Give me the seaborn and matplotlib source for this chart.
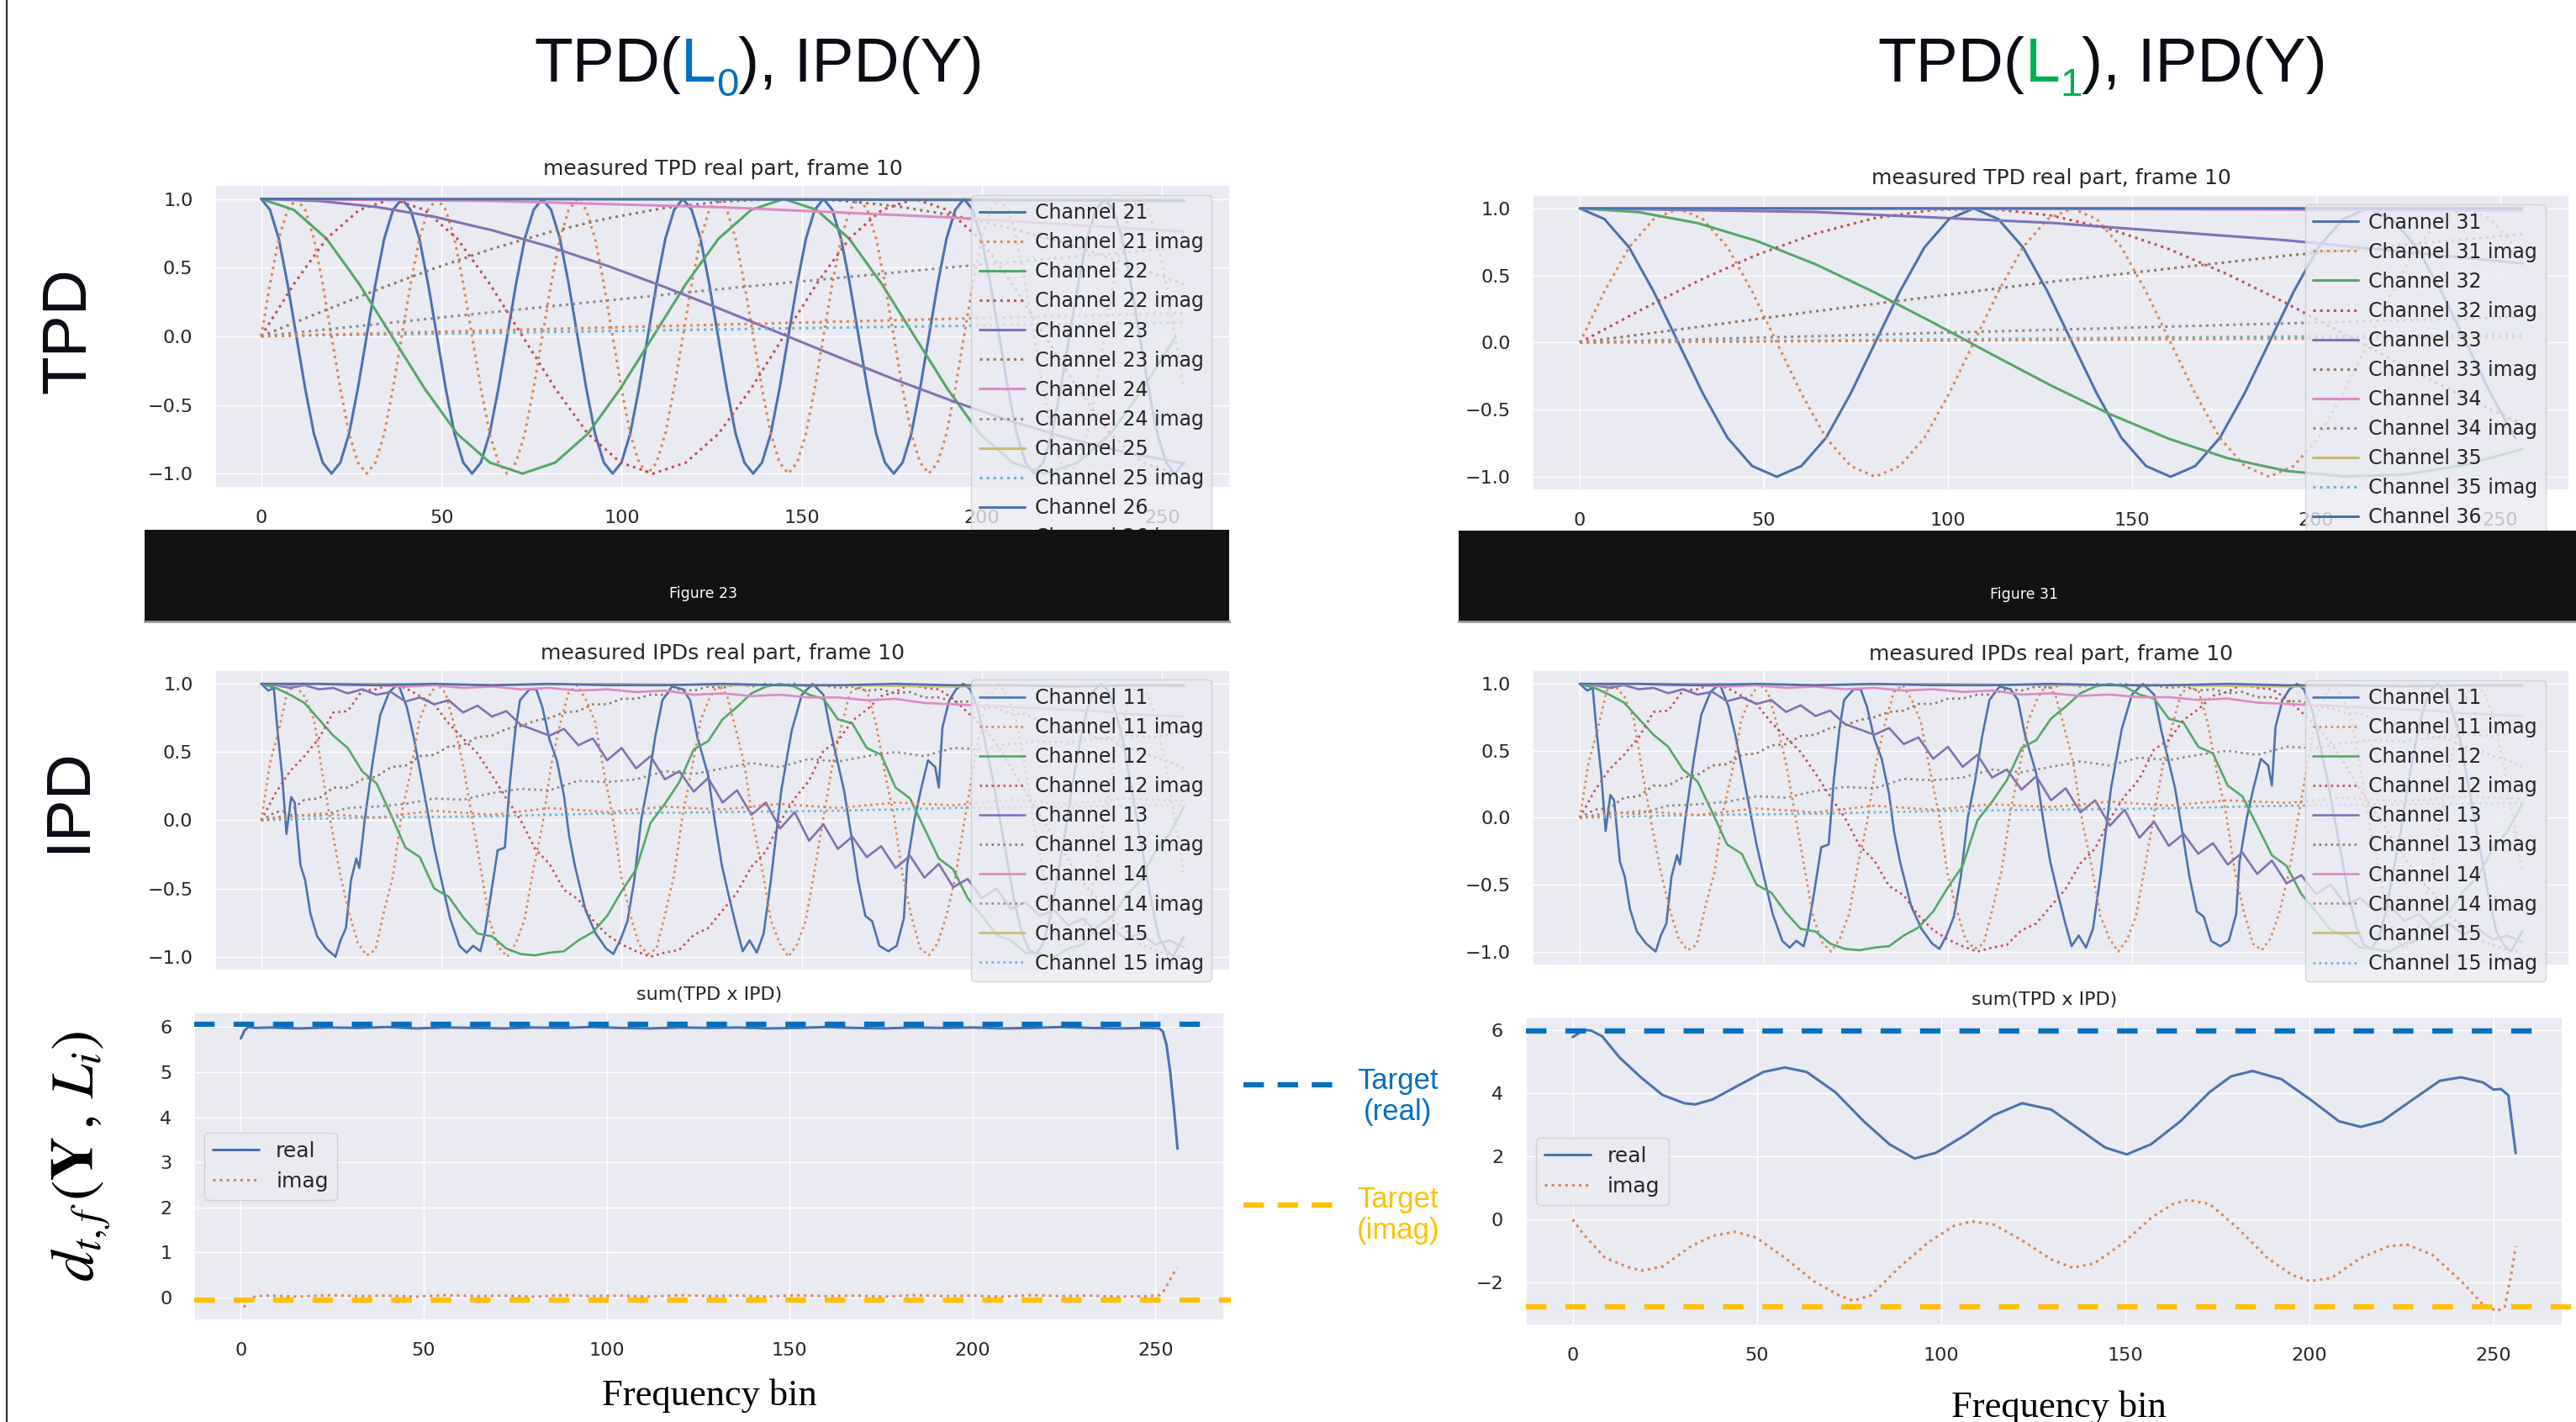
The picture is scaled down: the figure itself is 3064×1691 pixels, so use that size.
import matplotlib
matplotlib.use("Agg")
import numpy as np
import seaborn as sns
import matplotlib.pyplot as plt
from matplotlib.lines import Line2D

# ---------------------------------------------------------------- data
# TPD(L0): channels 21..26 (real, imag) per frequency bin
tpd_l0_ch21_step = 2.4375
tpd_l0_ch21_real = [
    1.0, 0.92, 0.71, 0.38, 0.0, -0.38, -0.71, -0.92, -1.0, -0.92, -0.71, -0.38, 0.0, 0.38, 0.71, 0.92,
    1.0, 0.92, 0.71, 0.38, 0.0, -0.38, -0.71, -0.92, -1.0, -0.92, -0.71, -0.38, 0.0, 0.38, 0.71, 0.92,
    1.0, 0.92, 0.71, 0.38, 0.0, -0.38, -0.71, -0.92, -1.0, -0.92, -0.71, -0.38, 0.0, 0.38, 0.71, 0.92,
    1.0, 0.92, 0.71, 0.38, 0.0, -0.38, -0.71, -0.92, -1.0, -0.92, -0.71, -0.38, 0.0, 0.38, 0.71, 0.92,
    1.0, 0.92, 0.71, 0.38, 0.0, -0.38, -0.71, -0.92, -1.0, -0.92, -0.71, -0.38, 0.0, 0.38, 0.71, 0.92,
    1.0, 0.92, 0.71, 0.38, 0.0, -0.38, -0.71, -0.92, -1.0, -0.92, -0.71, -0.38, 0.0, 0.38, 0.71, 0.92,
    1.0, 0.92, 0.71, 0.38, 0.0, -0.38, -0.71, -0.92, -1.0, -0.92,
]
tpd_l0_ch21_imag = [
    0.0, 0.38, 0.71, 0.92, 1.0, 0.92, 0.71, 0.38, 0.0, -0.38, -0.71, -0.92, -1.0, -0.92, -0.71, -0.38,
    0.0, 0.38, 0.71, 0.92, 1.0, 0.92, 0.71, 0.38, 0.0, -0.38, -0.71, -0.92, -1.0, -0.92, -0.71, -0.38,
    0.0, 0.38, 0.71, 0.92, 1.0, 0.92, 0.71, 0.38, 0.0, -0.38, -0.71, -0.92, -1.0, -0.92, -0.71, -0.38,
    0.0, 0.38, 0.71, 0.92, 1.0, 0.92, 0.71, 0.38, 0.0, -0.38, -0.71, -0.92, -1.0, -0.92, -0.71, -0.38,
    0.0, 0.38, 0.71, 0.92, 1.0, 0.92, 0.71, 0.38, 0.0, -0.38, -0.71, -0.92, -1.0, -0.92, -0.71, -0.38,
    0.0, 0.38, 0.71, 0.92, 1.0, 0.92, 0.71, 0.38, 0.0, -0.38, -0.71, -0.92, -1.0, -0.92, -0.71, -0.38,
    0.0, 0.38, 0.71, 0.92, 1.0, 0.92, 0.71, 0.38, 0.0, -0.38,
]
tpd_l0_ch22_step = 9.0625
tpd_l0_ch22_real = [
    1.0, 0.92, 0.71, 0.38, 0.0, -0.38, -0.71, -0.92, -1.0, -0.92, -0.71, -0.38, 0.0, 0.38, 0.71, 0.92,
    1.0, 0.92, 0.71, 0.38, 0.0, -0.38, -0.71, -0.92, -1.0, -0.92, -0.71, -0.38, 0.0,
]
tpd_l0_ch22_imag = [
    0.0, 0.38, 0.71, 0.92, 1.0, 0.92, 0.71, 0.38, 0.0, -0.38, -0.71, -0.92, -1.0, -0.92, -0.71, -0.38,
    0.0, 0.38, 0.71, 0.92, 1.0, 0.92, 0.71, 0.38, 0.0, -0.38, -0.71, -0.92, -1.0,
]
tpd_l0_ch23_step = 16
tpd_l0_ch23_real = [1.0, 0.985, 0.941, 0.87, 0.772, 0.652, 0.513, 0.358, 0.192, 0.021,
                    -0.15, -0.317, -0.474, -0.618, -0.744, -0.848, -0.926]
tpd_l0_ch23_imag = [0.0, 0.171, 0.337, 0.494, 0.636, 0.758, 0.858, 0.934, 0.981, 1.0,
                    0.989, 0.948, 0.88, 0.786, 0.668, 0.53, 0.377]
tpd_slow_step = 64
tpd_l0_ch24_real = [1.0, 0.985, 0.939, 0.864, 0.762]
tpd_l0_ch24_imag = [0.0, 0.175, 0.345, 0.504, 0.647]
tpd_l0_ch25_real = [1.0, 1.0, 0.999, 0.997, 0.995]
tpd_l0_ch25_imag = [0.0, 0.025, 0.05, 0.075, 0.1]
tpd_l0_ch26_real = [1.0, 0.998, 0.996, 0.992, 0.986]
tpd_l0_ch26_imag = [0.0, 0.042, 0.085, 0.127, 0.169]

# TPD(L1): channels 31..36
tpd_l1_ch31_step = 6.6875
tpd_l1_ch31_real = [
    1.0, 0.92, 0.71, 0.38, 0.0, -0.38, -0.71, -0.92, -1.0, -0.92, -0.71, -0.38, 0.0, 0.38, 0.71, 0.92,
    1.0, 0.92, 0.71, 0.38, 0.0, -0.38, -0.71, -0.92, -1.0, -0.92, -0.71, -0.38, 0.0, 0.38, 0.71, 0.92,
    1.0, 0.92, 0.71, 0.38, 0.0, -0.38, -0.71,
]
tpd_l1_ch31_imag = [
    0.0, 0.38, 0.71, 0.92, 1.0, 0.92, 0.71, 0.38, 0.0, -0.38, -0.71, -0.92, -1.0, -0.92, -0.71, -0.38,
    0.0, 0.38, 0.71, 0.92, 1.0, 0.92, 0.71, 0.38, 0.0, -0.38, -0.71, -0.92, -1.0, -0.92, -0.71, -0.38,
    0.0, 0.38, 0.71, 0.92, 1.0, 0.92, 0.71,
]
tpd_l1_ch32_step = 16
tpd_l1_ch32_real = [1.0, 0.972, 0.89, 0.758, 0.584, 0.375, 0.148, -0.089, -0.32, -0.533,
                    -0.717, -0.862, -0.957, -0.998, -0.984, -0.914, -0.795]
tpd_l1_ch32_imag = [0.0, 0.235, 0.457, 0.653, 0.812, 0.927, 0.989, 0.996, 0.947, 0.846,
                    0.697, 0.508, 0.292, 0.059, -0.177, -0.402, -0.607]
tpd_l1_ch33_real = [1.0, 0.973, 0.892, 0.762, 0.59]
tpd_l1_ch33_imag = [0.0, 0.233, 0.453, 0.648, 0.808]
tpd_l1_ch34_real = [1.0, 0.999, 0.996, 0.99, 0.982]
tpd_l1_ch34_imag = [0.0, 0.048, 0.095, 0.143, 0.19]
tpd_l1_ch35_real = [1.0, 1.0, 0.999, 0.999, 0.998]
tpd_l1_ch35_imag = [0.0, 0.015, 0.03, 0.045, 0.06]
tpd_l1_ch36_real = [1.0, 1.0, 1.0, 1.0, 0.999]
tpd_l1_ch36_imag = [0.0, 0.01, 0.02, 0.03, 0.04]

# IPD(Y): measured channels 11..16 (same frame in both columns)
ipd_ch11_bins = [0, 2, 3.5, 4.5, 5.8, 7, 8.3, 9.3, 10.9, 12.2,
                 13.6, 15.5, 18, 20.6, 22, 23.5, 24.9, 26.4, 27.2, 28.7,
                 31, 33, 35.5, 38, 40.4, 42.3, 44.3, 46.6, 48, 50,
                 52.4, 55, 57, 58.8, 60.8, 62, 63.7, 65.6, 67.6, 69,
                 70.5, 71.8, 74.4, 76.3, 78, 80, 82, 84, 85.4, 87,
                 90, 92.8, 95.7, 97.7, 99.6, 101.6, 103.5, 105.4, 107.4, 109.3,
                 111.3, 114, 117, 119, 121, 124, 125.8, 127.8, 129.7, 131.7,
                 133.6, 135.5, 137.5, 139.4, 141.4, 144.3, 147.2, 150, 153, 156,
                 157.9, 159.8, 161.7, 163.7, 165.6, 167.6, 169.5, 171.5, 174, 176.3,
                 178.3, 179.2, 181.2, 183, 185, 187, 188, 189, 190.9, 192.8,
                 194.8, 196.7, 199, 201, 203, 205, 207, 209, 211, 213,
                 215, 217, 219, 221, 223, 225, 227, 229, 231, 233,
                 235, 237, 239, 241, 243, 245, 247, 249, 251, 253,
                 255, 256]
ipd_ch11_real = [1.0, 0.95, 0.97, 0.66, 0.33, -0.1, 0.17, 0.13, -0.33, -0.44,
                 -0.68, -0.85, -0.94, -1.0, -0.88, -0.79, -0.44, -0.28, -0.35, 0.0,
                 0.44, 0.77, 0.94, 1.0, 0.83, 0.61, 0.33, 0.0, -0.2, -0.44,
                 -0.72, -0.92, -0.97, -0.92, -0.96, -0.83, -0.55, -0.22, -0.2, 0.28,
                 0.66, 0.88, 0.96, 0.96, 0.83, 0.59, 0.44, 0.18, -0.11, -0.33,
                 -0.66, -0.83, -0.94, -0.98, -0.88, -0.74, -0.44, 0.0, 0.28, 0.61,
                 0.88, 0.98, 0.96, 0.88, 0.61, 0.33, 0.0, -0.33, -0.55, -0.77,
                 -0.96, -0.88, -0.97, -0.83, -0.44, 0.22, 0.66, 0.92, 1.0, 0.92,
                 0.66, 0.44, 0.22, -0.11, -0.44, -0.7, -0.74, -0.92, -0.96, -0.92,
                 -0.72, -0.33, 0.0, 0.22, 0.44, 0.39, 0.24, 0.68, 0.88, 0.96,
                 1.0, 0.96, 0.8, 0.55, 0.3, 0.0, -0.3, -0.6, -0.82, -0.95,
                 -0.98, -0.9, -0.7, -0.4, -0.1, 0.25, 0.55, 0.8, 0.95, 1.0,
                 0.95, 0.8, 0.6, 0.3, 0.0, -0.3, -0.6, -0.85, -0.95, -1.0,
                 -0.9, -0.85]
ipd_ch11_imag_step = 2.4375
ipd_ch11_imag = [
    0.0, 0.42, 0.66, 0.95, 0.98, 0.9, 0.74, 0.33, -0.05, -0.4, -0.68, -0.9, -0.99, -0.95, -0.66, -0.41,
    0.06, 0.35, 0.73, 0.9, 1.0, 0.93, 0.69, 0.4, 0.02, -0.36, -0.74, -0.93, -1.0, -0.9, -0.72, -0.35,
    -0.04, 0.4, 0.7, 0.94, 0.99, 0.88, 0.72, 0.36, 0.03, -0.42, -0.69, -0.91, -0.98, -0.94, -0.68, -0.4,
    0.05, 0.37, 0.73, 0.89, 1.0, 0.92, 0.67, 0.41, -0.03, -0.35, -0.73, -0.9, -1.0, -0.91, -0.73, -0.36,
    0.02, 0.4, 0.68, 0.93, 0.98, 0.94, 0.7, 0.34, 0.04, -0.4, -0.7, -0.94, -0.99, -0.9, -0.7, -0.42,
    -0.02, 0.36, 0.74, 0.91, 1.0, 0.9, 0.73, 0.37, -0.04, -0.38, -0.72, -0.92, -0.98, -0.93, -0.69, -0.37,
    0.03, 0.4, 0.7, 0.93, 0.99, 0.91, 0.71, 0.38, 0.0, -0.39,
]
ipd_mid_step = 4
ipd_ch12_real = [1.0, 0.97, 0.92, 0.86, 0.74, 0.62, 0.53, 0.36, 0.27, 0.04,
                 -0.2, -0.27, -0.5, -0.56, -0.71, -0.83, -0.85, -0.94, -0.98, -0.99,
                 -0.97, -0.96, -0.88, -0.82, -0.7, -0.52, -0.36, -0.02, 0.12, 0.28,
                 0.52, 0.58, 0.74, 0.83, 0.93, 0.98, 1.0, 0.98, 0.92, 0.89,
                 0.74, 0.71, 0.53, 0.48, 0.24, 0.16, -0.06, -0.28, -0.36, -0.57,
                 -0.7, -0.84, -0.88, -0.97, -0.98, -1.0, -0.94, -0.91, -0.78, -0.71,
                 -0.55, -0.44, -0.23, -0.1, 0.1]
ipd_ch12_imag = [0.0, 0.2, 0.36, 0.47, 0.6, 0.79, 0.8, 0.95, 0.96, 1.0,
                 0.97, 0.91, 0.85, 0.71, 0.6, 0.49, 0.33, 0.16, 0.0, -0.21,
                 -0.32, -0.51, -0.58, -0.73, -0.84, -0.91, -0.96, -1.0, -0.97, -0.95,
                 -0.84, -0.79, -0.66, -0.53, -0.34, -0.23, -0.01, 0.16, 0.29, 0.51,
                 0.58, 0.73, 0.81, 0.91, 0.94, 1.0, 0.97, 0.96, 0.89, 0.79,
                 0.69, 0.56, 0.39, 0.21, 0.04, -0.13, -0.29, -0.46, -0.57, -0.73,
                 -0.81, -0.91, -0.95, -0.99, -1.0]
ipd_ch13_real = [1.0, 0.99, 0.97, 0.99, 0.96, 0.97, 0.93, 0.96, 0.92, 0.94,
                 0.87, 0.9, 0.85, 0.88, 0.79, 0.84, 0.76, 0.8, 0.7, 0.66,
                 0.62, 0.67, 0.55, 0.6, 0.44, 0.53, 0.38, 0.47, 0.3, 0.36,
                 0.21, 0.31, 0.13, 0.22, 0.04, 0.13, -0.06, 0.06, -0.15, -0.03,
                 -0.21, -0.12, -0.27, -0.19, -0.35, -0.26, -0.42, -0.32, -0.49, -0.43,
                 -0.57, -0.5, -0.65, -0.6, -0.7, -0.66, -0.77, -0.72, -0.83, -0.79,
                 -0.87, -0.83, -0.91, -0.88, -0.93]
ipd_ch13_imag = [0.0, 0.06, 0.07, 0.15, 0.16, 0.24, 0.24, 0.3, 0.32, 0.39,
                 0.4, 0.47, 0.48, 0.54, 0.55, 0.61, 0.62, 0.67, 0.69, 0.73,
                 0.75, 0.79, 0.8, 0.85, 0.85, 0.89, 0.89, 0.92, 0.92, 0.96,
                 0.95, 0.98, 0.97, 1.0, 0.98, 1.0, 0.99, 1.0, 0.98, 0.99,
                 0.97, 0.98, 0.95, 0.96, 0.93, 0.94, 0.9, 0.9, 0.87, 0.87,
                 0.83, 0.82, 0.78, 0.78, 0.73, 0.72, 0.66, 0.66, 0.6, 0.59,
                 0.53, 0.51, 0.46, 0.43, 0.38]
ipd_fine_step = 8
ipd_ch14_real = [1.0, 0.99, 1.0, 0.99, 0.99, 0.98, 0.99, 0.97, 0.98, 0.96,
                 0.97, 0.95, 0.96, 0.94, 0.95, 0.92, 0.93, 0.91, 0.92, 0.9,
                 0.9, 0.88, 0.89, 0.86, 0.85, 0.84, 0.83, 0.82, 0.81, 0.8,
                 0.78, 0.77, 0.76]
ipd_ch14_imag = [0.0, 0.04, 0.03, 0.09, 0.1, 0.12, 0.16, 0.15, 0.2, 0.23,
                 0.22, 0.29, 0.28, 0.3, 0.36, 0.34, 0.38, 0.42, 0.39, 0.45,
                 0.43, 0.47, 0.5, 0.47, 0.53, 0.52, 0.56, 0.58, 0.57, 0.6,
                 0.62, 0.61, 0.65]
ipd_flat_step = 32
ipd_ch15_real = [1.0, 1.0, 0.99, 1.0, 0.99, 0.99, 0.98, 0.99, 0.98]
ipd_ch15_imag = [0.0, 0.02, 0.03, 0.05, 0.06, 0.07, 0.09, 0.1, 0.11]
ipd_ch16_step = 16
ipd_ch16_real = [1.0, 1.0, 0.99, 1.0, 0.99, 1.0, 0.99, 0.99, 1.0, 0.99, 0.99, 1.0, 0.99, 0.99, 0.98, 0.99, 0.99]
ipd_ch16_imag = [0.0, 0.05, 0.02, 0.07, 0.04, 0.09, 0.06, 0.1, 0.08, 0.12, 0.09, 0.13, 0.11, 0.15, 0.12, 0.16, 0.14]

# sum(TPD x IPD) for L0
sum_l0_bins = [0, 1, 2, 4, 8, 16, 24, 32, 40, 48, 56, 64, 72, 80, 88, 96, 104, 112, 120, 128,
               136, 144, 152, 160, 168, 176, 184, 192, 200, 208, 216, 224, 232, 240, 248,
               251, 252, 253, 254, 255, 256]
sum_l0_real = [5.75, 5.92, 6.0, 5.98, 5.99, 5.97, 5.99, 5.98, 6.0, 5.97, 5.99, 5.98, 5.97, 5.99,
               5.98, 6.0, 5.98, 5.97, 5.99, 5.98, 5.99, 5.97, 5.98, 6.0, 5.98, 5.97, 5.99, 5.98,
               5.99, 5.97, 5.98, 6.0, 5.98, 5.97, 5.98, 5.97, 5.9, 5.6, 5.0, 4.2, 3.3]
sum_l0_imag = [-0.05, -0.2, -0.08, 0.03, 0.04, 0.02, 0.05, 0.03, 0.04, 0.02, 0.05, 0.03, 0.04,
               0.02, 0.05, 0.03, 0.04, 0.02, 0.05, 0.03, 0.04, 0.02, 0.05, 0.03, 0.04, 0.02,
               0.05, 0.03, 0.04, 0.02, 0.05, 0.03, 0.04, 0.02, 0.03, 0.05, 0.12, 0.25, 0.4, 0.55, 0.65]
# sum(TPD x IPD) for L1
sum_l1_real_bins = [0, 3, 5, 8, 12.7, 18.6, 24.4, 30.3, 33.2, 38, 45.9, 51.8, 57.6, 63.5, 71.3, 79,
                    86, 92.8, 98.6, 106.4, 114.3, 122, 129.9, 137.7, 144.5, 150.4, 157, 165,
                    172.9, 178.7, 184.6, 192.4, 200.2, 208, 213.9, 219.7, 227.5, 235.4, 241.2,
                    247.1, 250, 252, 254, 256]
sum_l1_real = [5.77, 6.0, 5.98, 5.8, 5.13, 4.49, 3.94, 3.68, 3.64, 3.8, 4.3, 4.67, 4.81, 4.67,
               4.03, 3.11, 2.38, 1.93, 2.11, 2.66, 3.3, 3.68, 3.48, 2.84, 2.28, 2.06, 2.38, 3.11,
               4.03, 4.53, 4.7, 4.44, 3.8, 3.11, 2.93, 3.11, 3.75, 4.39, 4.5, 4.34, 4.11, 4.13,
               3.93, 2.1]
sum_l1_imag_bins = [0, 3, 8.8, 14.6, 18.6, 24.4, 32.2, 38, 44, 49.8, 57.6, 65.4, 72.3, 76.2, 81,
                    88.9, 96.7, 103.5, 108.4, 114.3, 122, 129.9, 135.7, 141.6, 149.4, 157.2, 163,
                    167, 172.9, 180.7, 188.5, 195.3, 200.2, 206, 214, 221.7, 226.6, 233.4, 241.2,
                    247, 250.9, 253, 254.9, 256]
sum_l1_imag = [0.0, -0.48, -1.21, -1.49, -1.62, -1.49, -0.84, -0.52, -0.39, -0.57, -1.21, -1.95,
               -2.4, -2.57, -2.4, -1.49, -0.71, -0.2, -0.06, -0.16, -0.66, -1.26, -1.53, -1.39,
               -0.75, 0.07, 0.49, 0.62, 0.49, -0.29, -1.21, -1.76, -1.95, -1.85, -1.21, -0.84,
               -0.8, -1.12, -1.95, -2.68, -2.9, -2.77, -1.67, -0.85]

# target levels drawn on the slide
target_l0_real, target_l0_imag = 6.06, -0.05
target_l1_real, target_l1_imag = 5.97, -2.77

# ---------------------------------------------------------------- style
sns.set_theme(style="darkgrid")
plt.rcParams["mathtext.fontset"] = "stix"
pal = sns.color_palette("deep")
BLUE_T, YELLOW_T, GREEN_T = "#0070C0", "#FFC000", "#00B050"
INK = "#0c0c14"

fig = plt.figure(figsize=(30.64, 16.91), dpi=100)


def grid(step, vals):
    return np.arange(len(vals)) * step


def curve(ax, x, y, color, label, dotted=False, lw=2.2):
    sns.lineplot(x=x, y=y, ax=ax, color=color, linewidth=lw,
                 linestyle=":" if dotted else "-", label=label,
                 errorbar=None, sort=False, legend=False)


def style_axes(ax, title, xlabels=True):
    ax.set_xlim(-12.8, 268.8)
    ax.set_xticks([0, 50, 100, 150, 200, 250])
    if not xlabels:
        ax.set_xticklabels([])
    ax.tick_params(labelsize=16, pad=13)
    ax.set_title(title, fontsize=18, pad=9, color="0.15")


def channel_legend(ax, n):
    h, lab = ax.get_legend_handles_labels()
    ax.legend(h[:n], lab[:n], loc="upper left", bbox_to_anchor=(0.745, 0.968),
              borderaxespad=0, fontsize=17, labelspacing=0.47, handlelength=2.3,
              handletextpad=0.5)


def tpd_panel(rect, chans, first):
    ax = fig.add_axes(rect)
    for i, (x, re, im) in enumerate(chans):
        curve(ax, x, re, pal[(2 * i) % 10], f"Channel {first + i}")
        curve(ax, x, im, pal[(2 * i + 1) % 10], f"Channel {first + i} imag", dotted=True)
    ax.set_ylim(-1.1, 1.1)
    style_axes(ax, "measured TPD real part, frame 10")
    channel_legend(ax, 2 * len(chans))
    return ax


def band(rect, text, tx):
    b = fig.add_axes(rect)
    b.set_facecolor("#121212")
    b.set_xticks([])
    b.set_yticks([])
    b.grid(False)
    for s in b.spines.values():
        s.set_visible(False)
    b.spines["bottom"].set_visible(True)
    b.spines["bottom"].set_color("#9a9a9a")
    b.spines["bottom"].set_linewidth(2)
    b.text(tx, 0.3, text, transform=b.transAxes, color="white", ha="center",
           va="center", fontsize=12.5)


def ipd_panel(rect):
    ax = fig.add_axes(rect)
    chans = [
        (ipd_ch11_bins, ipd_ch11_real, grid(ipd_ch11_imag_step, ipd_ch11_imag), ipd_ch11_imag),
        (grid(ipd_mid_step, ipd_ch12_real), ipd_ch12_real, grid(ipd_mid_step, ipd_ch12_imag), ipd_ch12_imag),
        (grid(ipd_mid_step, ipd_ch13_real), ipd_ch13_real, grid(ipd_mid_step, ipd_ch13_imag), ipd_ch13_imag),
        (grid(ipd_fine_step, ipd_ch14_real), ipd_ch14_real, grid(ipd_fine_step, ipd_ch14_imag), ipd_ch14_imag),
        (grid(ipd_flat_step, ipd_ch15_real), ipd_ch15_real, grid(ipd_flat_step, ipd_ch15_imag), ipd_ch15_imag),
        (grid(ipd_ch16_step, ipd_ch16_real), ipd_ch16_real, grid(ipd_ch16_step, ipd_ch16_imag), ipd_ch16_imag),
    ]
    for i, (xr, re, xi, im) in enumerate(chans):
        curve(ax, xr, re, pal[(2 * i) % 10], f"Channel {11 + i}", lw=1.9)
        curve(ax, xi, im, pal[(2 * i + 1) % 10], f"Channel {11 + i} imag", dotted=True, lw=1.9)
    ax.set_ylim(-1.1, 1.1)
    style_axes(ax, "measured IPDs real part, frame 10", xlabels=False)
    channel_legend(ax, 10)
    return ax


def sum_panel(rect, xr, re, xi, im, ylim, yticks, t_real, t_imag, blue_end, yellow_end):
    ax = fig.add_axes(rect)
    curve(ax, xr, re, pal[0], "real")
    curve(ax, xi, im, pal[1], "imag", dotted=True)
    ax.set_ylim(*ylim)
    ax.set_yticks(yticks)
    style_axes(ax, "sum(TPD x IPD)")
    ax.set_title("sum(TPD x IPD)", fontsize=16, pad=11, color="0.15")
    ax.legend(loc="center left", fontsize=18, handlelength=2.2)
    tr = ax.get_yaxis_transform()
    ax.plot([0, blue_end], [t_real, t_real], transform=tr, color=BLUE_T, lw=4.5,
            dashes=(3.9, 3.6), clip_on=False, zorder=5)
    ax.plot([0, yellow_end], [t_imag, t_imag], transform=tr, color=YELLOW_T, lw=4.5,
            dashes=(3.9, 3.6), clip_on=False, zorder=5)
    return ax


# ---------------------------------------------------------------- panels
tpd_panel([0.0835, 0.6573, 0.394, 0.2125], [
    (grid(tpd_l0_ch21_step, tpd_l0_ch21_real), tpd_l0_ch21_real, tpd_l0_ch21_imag),
    (grid(tpd_l0_ch22_step, tpd_l0_ch22_real), tpd_l0_ch22_real, tpd_l0_ch22_imag),
    (grid(tpd_l0_ch23_step, tpd_l0_ch23_real), tpd_l0_ch23_real, tpd_l0_ch23_imag),
    (grid(tpd_slow_step, tpd_l0_ch24_real), tpd_l0_ch24_real, tpd_l0_ch24_imag),
    (grid(tpd_slow_step, tpd_l0_ch25_real), tpd_l0_ch25_real, tpd_l0_ch25_imag),
    (grid(tpd_slow_step, tpd_l0_ch26_real), tpd_l0_ch26_real, tpd_l0_ch26_imag),
], 21)
tpd_panel([0.595, 0.6553, 0.4024, 0.2076], [
    (grid(tpd_l1_ch31_step, tpd_l1_ch31_real), tpd_l1_ch31_real, tpd_l1_ch31_imag),
    (grid(tpd_l1_ch32_step, tpd_l1_ch32_real), tpd_l1_ch32_real, tpd_l1_ch32_imag),
    (grid(tpd_slow_step, tpd_l1_ch33_real), tpd_l1_ch33_real, tpd_l1_ch33_imag),
    (grid(tpd_slow_step, tpd_l1_ch34_real), tpd_l1_ch34_real, tpd_l1_ch34_imag),
    (grid(tpd_slow_step, tpd_l1_ch35_real), tpd_l1_ch35_real, tpd_l1_ch35_imag),
    (grid(tpd_slow_step, tpd_l1_ch36_real), tpd_l1_ch36_real, tpd_l1_ch36_imag),
], 31)

band([0.0561, 0.563, 0.4210, 0.0647], "Figure 23", 0.515)
band([0.5663, 0.563, 0.4337, 0.0636], "Figure 31", 0.506)

ipd_panel([0.0835, 0.3176, 0.394, 0.2111])
ipd_panel([0.595, 0.3214, 0.4024, 0.2071])

sum_panel([0.0753, 0.0717, 0.4000, 0.2162], sum_l0_bins, sum_l0_real, sum_l0_bins, sum_l0_imag,
          (-0.5, 6.32), [0, 1, 2, 3, 4, 5, 6], target_l0_real, target_l0_imag, 0.978, 1.006)
sum_panel([0.5922, 0.0682, 0.4027, 0.2162], sum_l1_real_bins, sum_l1_real, sum_l1_imag_bins,
          sum_l1_imag, (-3.34, 6.39), [-2, 0, 2, 4, 6], target_l1_real, target_l1_imag, 0.98, 1.013)

# ---------------------------------------------------------------- slide text
renderer = fig.canvas.get_renderer()


def big_title(x0, sub, color):
    y0 = 0.9428
    parts = [("TPD(", INK, 54, 0.0), ("L", color, 54, 0.0), (sub, color, 34, -0.0105),
             ("), IPD(Y)", INK, 54, 0.0)]
    x = x0
    for s, c, fs, dy in parts:
        t = fig.text(x, y0 + dy, s, color=c, fontsize=fs, family="Liberation Sans",
                     ha="left", va="baseline")
        x += t.get_window_extent(renderer=renderer).width / fig.bbox.width


big_title(0.2073, "0", BLUE_T)
big_title(0.7290, "1", GREEN_T)

fig.text(0.0268, 0.7676, "TPD", rotation=90, fontsize=54, family="Liberation Sans",
         color=INK, ha="center", va="center")
fig.text(0.0268, 0.4370, "IPD", rotation=90, fontsize=54, family="Liberation Sans",
         color=INK, ha="center", va="center")
fig.text(0.0319, 0.187, r"$d_{t,f}\,(\mathbf{Y}\,,\,L_i)$", rotation=90, fontsize=52,
         color="black", ha="center", va="center")
fig.text(0.2755, 0.0116, "Frequency bin", family="Liberation Serif", fontsize=32,
         color="black", ha="center", va="baseline")
fig.text(0.7991, 0.0035, "Frequency bin", family="Liberation Serif", fontsize=32,
         color="black", ha="center", va="baseline")

fig.add_artist(Line2D([0.4828, 0.5179], [0.237, 0.237], transform=fig.transFigure,
                      color=BLUE_T, lw=4.5, dashes=(3.9, 2.6)))
fig.add_artist(Line2D([0.4828, 0.5179], [0.1526, 0.1526], transform=fig.transFigure,
                      color=YELLOW_T, lw=4.5, dashes=(3.9, 2.6)))
fig.text(0.5427, 0.2289, "Target\n(real)", color=BLUE_T, fontsize=25,
         family="Liberation Sans", ha="center", va="center", linespacing=1.15)
fig.text(0.5427, 0.1457, "Target\n(imag)", color=YELLOW_T, fontsize=25,
         family="Liberation Sans", ha="center", va="center", linespacing=1.15)

fig.add_artist(Line2D([0.0026, 0.0026], [0, 1], transform=fig.transFigure,
                      color="#333333", lw=1.6))

fig.savefig("out.png", dpi=100)
